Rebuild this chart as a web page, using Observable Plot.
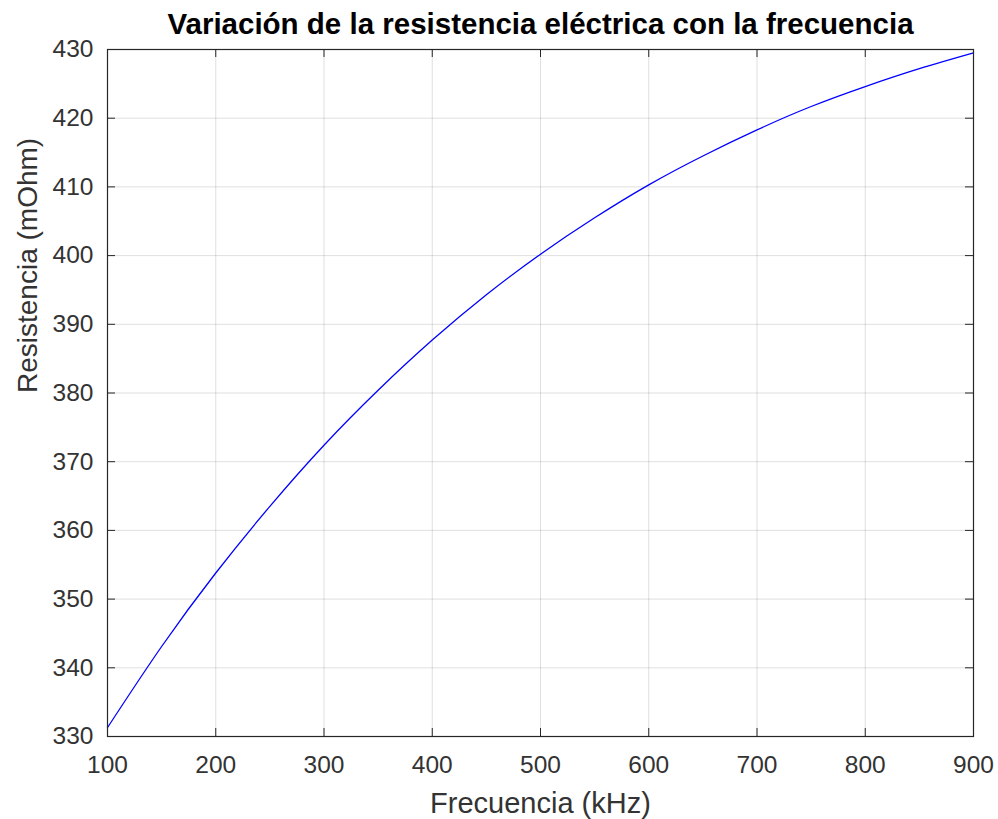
<!DOCTYPE html>
<html>
<head>
<meta charset="utf-8">
<script src="https://cdn.jsdelivr.net/npm/d3@7"></script>
<script src="https://cdn.jsdelivr.net/npm/@observablehq/plot@0.6"></script>
<style>
  html, body { margin: 0; padding: 0; background: #fff; }
</style>
</head>
<body>
<div id="chart"></div>
<script>
const freq = [100, 150, 200, 250, 300, 350, 400, 450, 500, 550, 600, 650, 700, 750, 800, 850, 900];
const resistance = [331.3, 343.1, 353.8, 363.5, 372.4, 380.4, 387.7, 394.3, 400.2, 405.5, 410.3, 414.5, 418.3, 421.7, 424.6, 427.2, 429.5];
const xTicks = [100, 200, 300, 400, 500, 600, 700, 800, 900];
const yTicks = [330, 340, 350, 360, 370, 380, 390, 400, 410, 420, 430];
const title = "Variación de la resistencia eléctrica con la frecuencia";
const xLabel = "Frecuencia (kHz)";
const yLabel = "Resistencia (mOhm)";

const data = freq.map((f, i) => ({f, r: resistance[i]}));

const W = 998, H = 819;
const mL = 107, mR = 25, mT = 49, mB = 83;
const innerW = W - mL - mR, innerH = H - mT - mB;
const ink = "#262626";
const tickLen = 8;

const chart = Plot.plot({
  width: W,
  height: H,
  marginLeft: mL,
  marginRight: mR,
  marginTop: mT,
  marginBottom: mB,
  style: {fontFamily: "'Liberation Sans', Arial, sans-serif", color: ink, background: "#fff"},
  x: {domain: [100, 900], ticks: xTicks, label: null},
  y: {domain: [330, 430], ticks: yTicks, label: null},
  marks: [
    Plot.gridX(xTicks, {stroke: ink, strokeOpacity: 0.15, strokeWidth: 1}),
    Plot.gridY(yTicks, {stroke: ink, strokeOpacity: 0.15, strokeWidth: 1}),
    Plot.line(data, {x: "f", y: "r", stroke: "#0000ff", strokeWidth: 1.3, curve: "natural"}),
    // inward ticks on all four sides
    Plot.ruleX(xTicks, {x: d => d, insetTop: innerH - tickLen, stroke: ink}),
    Plot.ruleX(xTicks, {x: d => d, insetBottom: innerH - tickLen, stroke: ink}),
    Plot.ruleY(yTicks, {y: d => d, insetRight: innerW - tickLen, stroke: ink}),
    Plot.ruleY(yTicks, {y: d => d, insetLeft: innerW - tickLen, stroke: ink}),
    Plot.frame({stroke: ink, strokeWidth: 1.2}),
    Plot.axisX(xTicks, {anchor: "bottom", tickSize: 0, tickPadding: 19, fontSize: 24.5, fill: "#333"}),
    Plot.axisY(yTicks, {anchor: "left", tickSize: 0, tickPadding: 14, fontSize: 24.5, fill: "#333"}),
    Plot.text([xLabel], {frameAnchor: "bottom", dy: 67, lineAnchor: "middle", fontSize: 29, fill: "#333"}),
    Plot.text([yLabel], {frameAnchor: "left", dx: -79, rotate: -90, lineAnchor: "middle", fontSize: 28, fill: "#333"}),
    Plot.text([title], {frameAnchor: "top", dy: -16, lineAnchor: "bottom", fontSize: 29.5, fontWeight: "bold", fill: "#000"})
  ]
});
document.getElementById("chart").appendChild(chart);
</script>
</body>
</html>
